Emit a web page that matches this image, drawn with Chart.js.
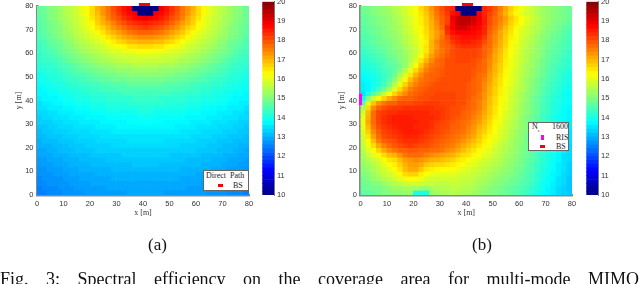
<!DOCTYPE html>
<html><head><meta charset="utf-8">
<script src="https://cdn.jsdelivr.net/npm/chart.js@4/dist/chart.umd.min.js"></script>
<style>
html,body{margin:0;padding:0;background:#fff;overflow:hidden;width:640px;height:284px}
#page{position:absolute;left:0;top:0;width:640px;height:284px;overflow:hidden;filter:blur(.45px)}
canvas{position:absolute}
.t{position:absolute;font-family:"Liberation Serif",serif;color:#111;white-space:pre}
.lg{position:absolute;background:#fff;border:1px solid #666;box-sizing:border-box;font-family:"Liberation Serif",serif;font-size:8px;color:#222}
.lg span{position:absolute;white-space:pre;line-height:8px}
.lg i{position:absolute;display:block}
</style></head><body><div id="page">
<canvas id="a" width="243" height="219" style="left:12px;top:0"></canvas>
<canvas id="ca" width="40" height="225" style="left:255px;top:0"></canvas>
<canvas id="b" width="243" height="219" style="left:335px;top:0"></canvas>
<canvas id="cb" width="40" height="225" style="left:579px;top:0"></canvas>
<div class="lg" style="left:203px;top:170px;width:46px;height:21px">
<span style="left:2px;top:1px;word-spacing:2px">Direct Path</span><i style="left:14px;top:13px;width:5px;height:3px;background:#f00"></i><span style="left:29px;top:11px">BS</span></div>
<div class="lg" style="left:528px;top:122px;width:41px;height:29px">
<span style="left:3px;top:0">N<sub style="font-size:4px;line-height:0">s</sub></span><span style="left:23px;top:0">1600</span>
<i style="left:12px;top:12px;width:3px;height:5px;background:#f0f"></i><span style="left:27px;top:11px">RIS</span>
<i style="left:11px;top:22px;width:5px;height:3px;background:#f00"></i><span style="left:27px;top:20px">BS</span></div>
<div class="t" style="left:148px;top:235px;font-size:17px">(a)</div>
<div class="t" style="left:472px;top:235px;font-size:17px">(b)</div>
<div class="t" style="left:0;top:269px;font-size:18px;word-spacing:13px">Fig. 3: Spectral efficiency on the coverage area for multi-mode MIMO</div>
</div>
<script>
const xCells=[1,3,5,7,9,11,13,15,17,19,21,23,25,27,29,31,33,35,37,39,41,43,45,47,49,51,53,55,57,59,61,63,65,67,69,71,73,75,77,79];
const yCells=[79,77,75,73,71,69,67,65,63,61,59,57,55,53,51,49,47,45,43,41,39,37,35,33,31,29,27,25,23,21,19,17,15,13,11,9,7,5,3,1];
const axisTicks=[0,10,20,30,40,50,60,70,80];
const colorTicks=[10,11,12,13,14,15,16,17,18,19,20];
const colorLevels=[10,10.2,10.4,10.6,10.8,11,11.2,11.4,11.6,11.8,12,12.2,12.4,12.6,12.8,13,13.2,13.4,13.6,13.8,14,14.2,14.4,14.6,14.8,15,15.2,15.4,15.6,15.8,16,16.2,16.4,16.6,16.8,17,17.2,17.4,17.6,17.8,18,18.2,18.4,18.6,18.8,19,19.2,19.4,19.6,19.8];
const bsPointA=[{x:40.6,y:80.8}];
const bsPointB=[{x:40.4,y:80.8}];
const risPointB=[{x:0,y:40.4}];
// spectral efficiency in tenths of bit/s/Hz, top row first
const directPathTenths=[
[147,148,150,151,153,155,156,158,160,163,166,170,173,176,180,183,186,189,100,100,100,100,100,189,186,183,180,176,173,170,166,163,160,158,156,155,153,151,150,148],
[147,148,150,151,153,155,156,158,160,163,166,169,173,176,179,182,185,187,189,100,100,100,189,187,185,182,179,176,173,169,166,163,160,158,156,155,153,151,150,148],
[146,148,150,151,153,154,156,157,159,161,165,168,171,175,178,180,183,185,187,188,189,188,187,185,183,180,178,175,171,168,165,161,159,157,156,154,153,151,150,148],
[146,147,149,150,152,154,155,157,159,161,163,167,170,172,175,178,180,182,183,184,185,184,183,182,180,178,175,172,170,167,163,161,159,157,155,154,152,150,149,147],
[146,147,149,150,151,153,155,156,158,160,162,165,167,170,173,175,177,179,180,181,182,181,180,179,177,175,173,170,167,165,162,160,158,156,155,153,151,150,149,147],
[145,147,148,150,151,153,154,156,157,159,160,163,165,168,170,172,174,176,177,178,178,178,177,176,174,172,170,168,165,163,160,159,157,156,154,153,151,150,148,147],
[145,146,148,149,150,152,153,155,156,158,159,160,163,165,167,169,171,172,173,174,174,174,173,172,171,169,167,165,163,160,159,158,156,155,153,152,150,149,148,146],
[144,145,147,148,149,151,152,154,155,156,158,159,160,162,164,166,167,169,169,170,170,170,169,169,167,166,164,162,160,159,158,156,155,154,152,151,149,148,147,145],
[143,145,146,147,148,150,151,153,154,155,156,157,158,160,161,162,163,165,165,166,166,166,165,165,163,162,161,160,158,157,156,155,154,153,151,150,148,147,146,145],
[143,144,145,146,148,149,150,151,153,154,155,156,157,158,159,159,160,161,161,162,162,162,161,161,160,159,159,158,157,156,155,154,153,151,150,149,148,146,145,144],
[142,143,144,145,146,148,149,150,151,152,153,154,155,156,157,158,158,158,159,159,159,159,159,158,158,158,157,156,155,154,153,152,151,150,149,148,146,145,144,143],
[142,143,143,144,145,146,148,149,150,151,152,153,154,154,155,156,156,157,157,157,157,157,157,157,156,156,155,154,154,153,152,151,150,149,148,146,145,144,143,143],
[141,142,142,143,144,145,146,147,148,149,150,151,152,152,153,154,154,154,155,155,155,155,155,154,154,154,153,152,152,151,150,149,148,147,146,145,144,143,142,142],
[140,141,142,142,143,144,145,146,147,148,148,149,150,151,151,152,152,152,153,153,153,153,153,152,152,152,151,151,150,149,148,148,147,146,145,144,143,142,142,141],
[139,140,141,141,142,143,144,145,145,146,147,148,148,149,149,150,150,151,151,151,151,151,151,151,150,150,149,149,148,148,147,146,145,145,144,143,142,141,141,140],
[139,139,140,141,141,142,143,143,144,145,145,146,147,147,148,148,148,149,149,149,149,149,149,149,148,148,148,147,147,146,145,145,144,143,143,142,141,141,140,139],
[138,139,139,140,140,141,142,142,143,143,144,144,145,145,146,146,146,147,147,147,147,147,147,147,146,146,146,145,145,144,144,143,143,142,142,141,140,140,139,139],
[137,138,139,139,140,140,141,141,142,142,143,143,144,144,144,145,145,145,145,145,145,145,145,145,145,145,144,144,144,143,143,142,142,141,141,140,140,139,139,138],
[137,137,138,138,139,139,140,140,141,141,142,142,142,143,143,143,144,144,144,144,144,144,144,144,144,143,143,143,142,142,142,141,141,140,140,139,139,138,138,137],
[136,137,137,137,138,139,139,140,140,140,141,141,141,142,142,142,142,142,143,143,143,143,143,142,142,142,142,142,141,141,141,140,140,140,139,139,138,137,137,137],
[135,136,136,137,137,138,138,139,139,139,140,140,140,141,141,141,141,142,142,142,142,142,142,142,141,141,141,141,140,140,140,139,139,139,138,138,137,137,136,136],
[135,135,136,136,136,137,137,138,138,138,139,139,139,140,140,140,140,140,140,141,141,141,140,140,140,140,140,140,139,139,139,138,138,138,137,137,136,136,136,135],
[134,134,135,135,136,136,136,137,137,137,138,138,138,139,139,139,139,139,139,140,140,140,139,139,139,139,139,139,138,138,138,137,137,137,136,136,136,135,135,134],
[133,134,134,135,135,135,136,136,136,137,137,137,137,138,138,138,138,138,138,139,139,139,138,138,138,138,138,138,137,137,137,137,136,136,136,135,135,135,134,134],
[133,133,133,134,134,135,135,135,136,136,136,136,137,137,137,137,137,138,138,138,138,138,138,138,137,137,137,137,137,136,136,136,136,135,135,135,134,134,133,133],
[132,132,133,133,134,134,134,135,135,135,135,136,136,136,136,137,137,137,137,137,137,137,137,137,137,137,136,136,136,136,135,135,135,135,134,134,134,133,133,132],
[131,132,132,133,133,133,134,134,134,134,135,135,135,135,136,136,136,136,136,136,136,136,136,136,136,136,136,135,135,135,135,134,134,134,134,133,133,133,132,132],
[131,131,132,132,132,133,133,133,134,134,134,134,135,135,135,135,135,135,135,135,135,135,135,135,135,135,135,135,135,134,134,134,134,133,133,133,132,132,132,131],
[130,131,131,131,132,132,132,133,133,133,133,134,134,134,134,134,134,135,135,135,135,135,135,135,134,134,134,134,134,134,133,133,133,133,132,132,132,131,131,131],
[130,130,130,131,131,131,132,132,132,133,133,133,133,133,134,134,134,134,134,134,134,134,134,134,134,134,134,133,133,133,133,133,132,132,132,131,131,131,130,130],
[129,129,130,130,131,131,131,132,132,132,132,133,133,133,133,133,133,133,133,133,133,133,133,133,133,133,133,133,133,133,132,132,132,132,131,131,131,130,130,129],
[129,129,129,130,130,130,131,131,131,131,132,132,132,132,132,132,133,133,133,133,133,133,133,133,133,132,132,132,132,132,132,131,131,131,131,130,130,130,129,129],
[128,128,129,129,129,130,130,130,131,131,131,131,131,132,132,132,132,132,132,132,132,132,132,132,132,132,132,132,131,131,131,131,131,130,130,130,129,129,129,128],
[128,128,128,129,129,129,130,130,130,130,131,131,131,131,131,131,131,131,132,132,132,132,132,131,131,131,131,131,131,131,131,130,130,130,130,129,129,129,128,128],
[127,127,128,128,128,129,129,129,130,130,130,130,130,130,131,131,131,131,131,131,131,131,131,131,131,131,131,130,130,130,130,130,130,129,129,129,128,128,128,127],
[127,127,127,128,128,128,129,129,129,129,129,130,130,130,130,130,130,130,130,130,130,130,130,130,130,130,130,130,130,130,129,129,129,129,129,128,128,128,127,127],
[126,127,127,127,127,128,128,128,129,129,129,129,129,129,130,130,130,130,130,130,130,130,130,130,130,130,130,129,129,129,129,129,129,128,128,128,127,127,127,127],
[126,126,127,127,127,127,128,128,128,128,129,129,129,129,129,129,129,129,129,129,129,129,129,129,129,129,129,129,129,129,129,128,128,128,128,127,127,127,127,126],
[125,126,126,126,127,127,127,128,128,128,128,128,128,129,129,129,129,129,129,129,129,129,129,129,129,129,129,129,128,128,128,128,128,128,127,127,127,126,126,126],
[125,125,126,126,126,127,127,127,127,128,128,128,128,128,128,128,128,129,129,129,129,129,129,129,128,128,128,128,128,128,128,128,127,127,127,127,126,126,126,125]
];
const assistedTenths=[
[148,149,150,151,152,153,155,156,158,160,162,166,169,173,177,180,183,184,100,100,100,100,100,184,182,179,175,171,167,164,161,159,157,155,153,152,151,150,149,148],
[148,149,150,151,152,153,154,156,158,160,162,165,168,172,176,179,182,186,188,100,100,100,188,184,181,178,174,170,166,163,160,158,157,155,153,152,151,150,149,148],
[147,148,149,150,151,152,154,155,157,159,161,164,167,171,175,178,181,189,193,194,194,192,189,185,180,177,175,172,168,165,162,160,158,156,154,152,151,150,149,148],
[147,148,149,150,151,152,153,155,157,159,161,164,167,170,174,178,181,188,193,194,193,191,188,185,180,177,174,171,167,164,162,159,157,155,153,152,150,149,148,147],
[146,147,148,149,150,152,153,154,156,158,161,163,166,170,173,177,184,188,191,192,190,188,187,184,179,176,173,169,166,163,160,158,156,155,153,151,150,149,147,146],
[146,147,148,149,150,151,152,154,156,158,160,163,166,169,172,175,183,186,188,188,188,187,186,184,178,175,171,168,165,162,159,158,156,154,152,150,149,148,146,145],
[145,146,147,148,150,151,152,153,155,157,159,162,165,169,172,176,180,184,185,186,186,186,185,182,177,174,171,167,164,161,159,157,155,153,151,150,148,147,146,145],
[145,146,147,148,149,150,151,153,155,157,159,161,164,170,174,177,179,182,184,185,185,184,183,180,177,174,170,167,163,161,158,156,155,153,151,149,148,147,145,144],
[144,145,146,147,148,149,151,152,154,156,158,161,165,170,173,177,178,180,182,183,183,183,182,178,177,173,170,166,163,160,158,156,154,152,151,149,147,146,145,144],
[143,144,145,146,147,149,150,151,153,155,157,160,165,170,174,176,178,180,181,181,181,181,180,178,176,172,169,165,162,160,157,155,154,152,150,148,147,146,144,143],
[142,143,144,145,146,148,149,151,152,155,158,162,167,172,175,177,179,180,181,181,181,181,180,178,175,171,168,165,162,159,157,155,153,152,150,148,146,145,144,143],
[141,142,143,144,145,147,148,150,152,155,159,165,170,174,177,178,180,180,181,181,181,180,179,177,174,171,168,164,161,159,157,155,153,151,149,147,146,145,143,142],
[140,141,142,143,145,146,147,149,152,157,162,168,173,176,177,178,180,180,180,180,180,180,178,177,174,170,167,164,161,159,156,154,153,151,149,147,145,144,143,142],
[139,140,141,142,144,145,147,150,155,160,166,171,175,177,178,179,180,180,180,180,180,179,178,177,173,170,167,163,161,158,156,154,152,150,148,146,145,143,142,141],
[138,139,140,141,143,145,148,154,159,165,170,174,177,178,178,179,180,180,180,180,180,179,177,176,172,169,166,163,160,158,156,154,152,150,148,146,144,143,141,140],
[137,138,139,141,143,146,151,157,163,169,173,176,177,178,179,180,180,180,180,180,180,178,177,175,172,168,165,162,160,158,155,153,151,149,147,145,144,142,141,140],
[136,137,139,141,144,149,155,161,167,172,175,177,178,179,180,180,180,180,180,180,179,178,177,174,171,168,165,162,160,157,155,153,151,149,147,145,143,142,140,139],
[136,137,140,144,148,154,160,166,171,175,177,178,179,180,180,180,180,180,180,180,179,178,177,174,170,167,164,161,159,157,155,153,150,148,146,144,143,141,140,139],
[135,140,146,151,157,162,167,171,174,177,178,179,180,180,181,181,181,181,180,180,179,178,176,173,170,167,164,161,159,156,154,152,150,148,146,144,142,141,139,138],
[138,150,157,163,167,171,174,177,178,178,179,180,180,181,181,181,181,181,180,180,179,177,176,173,169,166,163,161,158,156,154,152,149,147,145,143,142,140,139,138],
[146,160,168,173,176,178,178,180,180,180,181,181,182,182,182,181,181,181,180,180,178,177,175,172,169,166,163,160,158,156,153,151,149,147,145,143,141,140,139,138],
[154,166,174,178,180,181,182,182,183,183,183,183,183,183,182,182,181,180,180,179,178,177,175,172,168,165,162,160,158,155,153,151,149,147,145,143,141,140,138,137],
[158,169,177,181,182,183,183,184,184,184,184,184,184,183,183,182,181,180,180,178,177,176,174,171,168,165,162,159,157,155,153,151,149,147,144,143,141,139,138,137],
[160,170,177,181,183,184,185,185,185,185,184,184,184,184,183,182,181,180,179,178,177,175,173,170,167,164,161,159,157,155,152,150,148,146,144,142,140,139,138,137],
[161,171,177,181,183,184,185,185,185,185,185,184,184,183,182,181,180,179,178,177,176,174,172,169,166,163,161,158,156,154,152,150,148,146,144,142,140,139,137,136],
[160,169,176,180,182,183,184,185,185,185,184,184,184,183,181,180,180,178,178,177,175,173,170,168,165,162,160,158,156,154,152,150,148,146,144,142,140,138,137,136],
[159,167,174,178,181,182,183,184,185,185,185,184,183,182,181,180,179,178,177,176,174,172,169,167,164,162,159,157,155,153,151,150,148,146,143,141,140,138,137,135],
[158,165,172,177,180,181,182,183,184,184,184,183,182,181,180,179,178,177,176,175,173,171,168,165,163,161,159,157,155,153,151,149,147,145,143,141,139,138,136,135],
[157,163,169,175,178,179,180,182,183,183,183,182,181,180,179,178,177,176,175,173,171,169,167,164,162,160,158,156,154,152,151,149,147,145,143,141,139,137,136,135],
[156,161,166,171,175,177,179,180,181,182,181,180,180,179,178,177,176,175,173,171,169,167,165,163,161,159,157,155,154,152,150,149,147,145,143,141,139,137,136,134],
[155,159,163,167,171,174,176,178,178,179,179,178,178,177,177,176,174,173,171,169,167,165,163,161,160,158,156,155,153,152,150,148,146,145,143,141,139,137,136,134],
[154,157,160,163,166,169,170,173,176,177,177,177,175,174,173,172,171,170,168,166,165,163,162,160,159,157,156,154,153,151,150,148,146,144,142,140,139,137,135,134],
[153,155,157,159,162,165,166,169,172,173,174,173,172,170,170,169,168,167,165,164,162,161,160,158,157,156,155,153,152,151,149,147,146,144,142,140,138,137,135,134],
[152,153,155,157,160,162,164,167,170,172,172,171,168,167,166,166,165,164,163,162,160,160,158,157,156,155,154,153,151,150,149,147,145,143,141,140,138,136,135,133],
[151,152,154,156,158,160,162,165,169,171,171,168,165,164,163,162,162,162,161,160,159,158,157,156,155,154,153,152,151,149,148,146,145,143,141,139,138,136,135,133],
[150,151,153,155,157,158,160,163,166,167,167,164,162,161,160,160,160,160,159,158,158,157,156,155,154,153,152,151,150,149,147,146,144,142,140,139,137,136,134,133],
[149,150,152,153,155,156,158,160,161,162,162,161,159,158,158,158,158,158,158,157,157,156,155,154,153,152,151,150,149,148,147,145,144,142,140,138,137,135,134,132],
[148,149,150,151,152,154,155,156,158,158,158,158,157,157,156,156,156,157,157,156,156,155,154,153,152,151,150,149,148,147,146,145,143,141,139,138,136,135,134,132],
[148,148,149,149,150,151,153,153,154,154,154,153,152,154,155,155,155,156,156,155,155,154,153,152,151,150,149,148,147,146,145,144,142,141,139,137,136,134,133,132],
[147,147,148,149,150,150,151,151,152,152,140,140,140,152,153,154,154,155,155,154,154,153,152,151,150,150,149,148,147,146,145,143,142,140,138,137,136,134,133,132]
];

function jet(v){ // MATLAB jet over the 10..20 colour range
  const t=Math.min(1,Math.max(0,(v-10)/10));
  const c=x=>Math.round(255*Math.min(1,Math.max(0,1.5-Math.abs(4*t-x))));
  return `rgb(${c(3)},${c(2)},${c(1)})`;
}
function marker(w,h,color){
  const m=document.createElement('canvas');m.width=w;m.height=h;
  const g=m.getContext('2d');g.fillStyle=color;g.fillRect(0,0,w,h);return m;
}
function pointSet(label,data,w,h,color){
  return {type:'scatter',label,data,order:-1,clip:false,showLine:false,pointStyle:marker(w,h,color),radius:6,borderWidth:0};
}
function noPad(s){s.paddingLeft=0;s.paddingRight=0;s.paddingTop=0;s.paddingBottom=0}
const tickFont={family:'"Liberation Sans",sans-serif',size:7.5};
const titleFont={family:'"Liberation Serif",serif',size:8};
function heatmap(id,rows,points,yWidth,rightPad){
  const cells=rows.map((row,r)=>({
    type:'bar',label:'y '+yCells[r],
    data:row.map((v,i)=>({x:xCells[i],y:[yCells[r]-1,yCells[r]+1]})),
    backgroundColor:row.map(v=>jet(v/10)),
    borderWidth:0,borderSkipped:false,grouped:false,barPercentage:1,categoryPercentage:1,order:1
  }));
  new Chart(document.getElementById(id),{
    data:{datasets:[...cells,...points]},
    options:{
      responsive:false,animation:false,events:[],
      layout:{padding:{left:0,top:4.3,right:rightPad,bottom:0}},
      plugins:{legend:{display:false},tooltip:{enabled:false}},
      scales:{
        x:{type:'linear',offset:false,min:0,max:80,afterFit:s=>{s.height=24;noPad(s)},
          grid:{display:false,drawTicks:false},border:{color:'#888',width:2.5,z:0},
          afterBuildTicks:s=>{s.ticks=axisTicks.map(v=>({value:v}))},
          ticks:{autoSkip:false,maxRotation:0,font:tickFont,color:'#333',padding:4.5},
          title:{display:true,text:'x [m]',font:titleFont,color:'#333',padding:{top:0,bottom:1}}},
        y:{type:'linear',min:0,max:80,afterFit:s=>{s.width=yWidth;noPad(s)},
          grid:{display:false,drawTicks:false},border:{color:'#888',width:2.5,z:0},
          afterBuildTicks:s=>{s.ticks=axisTicks.map(v=>({value:v}))},
          ticks:{autoSkip:false,font:tickFont,color:'#333',padding:3.5},
          title:{display:true,text:'y [m]',font:titleFont,color:'#333',padding:{top:2,bottom:0}}}
      }
    }
  });
}
function colorbar(id){
  new Chart(document.getElementById(id),{
    type:'bar',
    data:{labels:['SE'],datasets:colorLevels.map(l=>({
      label:String(l),data:[[l,l+0.2]],backgroundColor:jet(l+0.1),
      borderWidth:0,borderSkipped:false,grouped:false,barPercentage:1,categoryPercentage:1}))},
    options:{
      responsive:false,animation:false,events:[],
      layout:{padding:{left:7.3,top:1.7,right:0,bottom:30}},
      plugins:{legend:{display:false},tooltip:{enabled:false}},
      scales:{
        x:{display:false},
        y:{position:'right',min:10,max:20,afterFit:s=>{s.width=21;noPad(s)},
          grid:{display:false,drawTicks:false},border:{color:'#777',width:1,z:2},
          afterBuildTicks:s=>{s.ticks=colorTicks.map(v=>({value:v}))},
          ticks:{autoSkip:false,font:tickFont,color:'#333',padding:3}}
      }
    }
  });
}
heatmap('a',directPathTenths,[pointSet('BS',bsPointA,11,3,'#f00')],25,5.3);
heatmap('b',assistedTenths,[pointSet('BS',bsPointB,11,3,'#f00'),pointSet('RIS',risPointB,3,11,'#f0f')],25.5,4.7);
colorbar('ca');
colorbar('cb');
</script></body></html>
